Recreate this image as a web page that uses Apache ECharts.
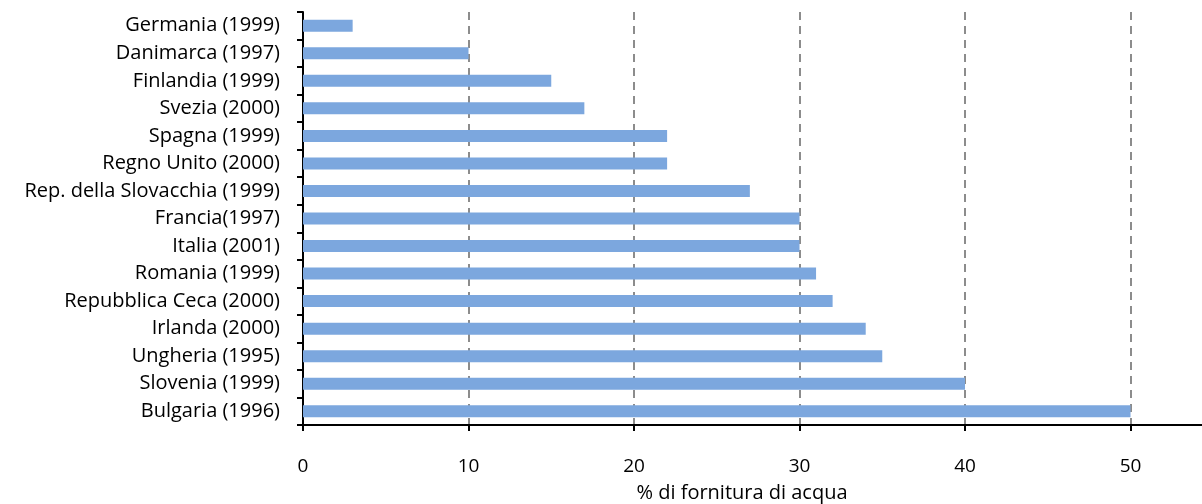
<!DOCTYPE html>
<html><head><meta charset="utf-8">
<script src="https://cdn.jsdelivr.net/npm/echarts@6/dist/echarts.min.js"></script>
<style>html,body{margin:0;padding:0;background:#fff;overflow:hidden}#c{width:1202px;height:504px}</style>
</head><body><div id="c"></div>
<script>
var categories = ["Germania (1999)","Danimarca (1997)","Finlandia (1999)","Svezia (2000)","Spagna (1999)","Regno Unito (2000)","Rep. della Slovacchia (1999)","Francia(1997)","Italia (2001)","Romania (1999)","Repubblica Ceca (2000)","Irlanda (2000)","Ungheria (1995)","Slovenia (1999)","Bulgaria (1996)"];
var values = [3,10,15,17,22,22,27,30,30,31,32,34,35,40,50];
var axisName = "% di fornitura di acqua";
var chart = echarts.init(document.getElementById('c'));
var font = "'Open Sans', Lato, sans-serif";
chart.setOption({
  animation:false,
  grid:{left:303,right:-3,top:12,bottom:79,containLabel:false,outerBoundsMode:'none'},
  xAxis:{type:'value',min:0,max:54.5,interval:10,
    name:axisName,nameLocation:'middle',nameGap:58,
    nameTextStyle:{fontFamily:font,fontSize:20,color:'#000',padding:[0,24,0,0]},
    axisLine:{show:true,lineStyle:{color:'#000',width:2}},
    axisTick:{show:true,length:6,lineStyle:{color:'#000',width:2}},
    axisLabel:{fontFamily:font,fontSize:19,color:'#000',margin:32,showMaxLabel:false,
      formatter:function(v){return (v%10===0)?String(v):'';}},
    splitLine:{show:true,lineStyle:{color:'#8c8c8c',type:[8,6],width:2}}
  },
  yAxis:{type:'category',data:categories,inverse:true,
    axisLine:{show:true,lineStyle:{color:'#000',width:2}},
    axisTick:{show:true,length:6,lineStyle:{color:'#000',width:2}},
    axisLabel:{fontFamily:font,fontSize:20,color:'#000',margin:23}
  },
  series:[{type:'bar',data:values,barWidth:12,itemStyle:{color:'#7CA7DE'}}]
});
</script></body></html>
